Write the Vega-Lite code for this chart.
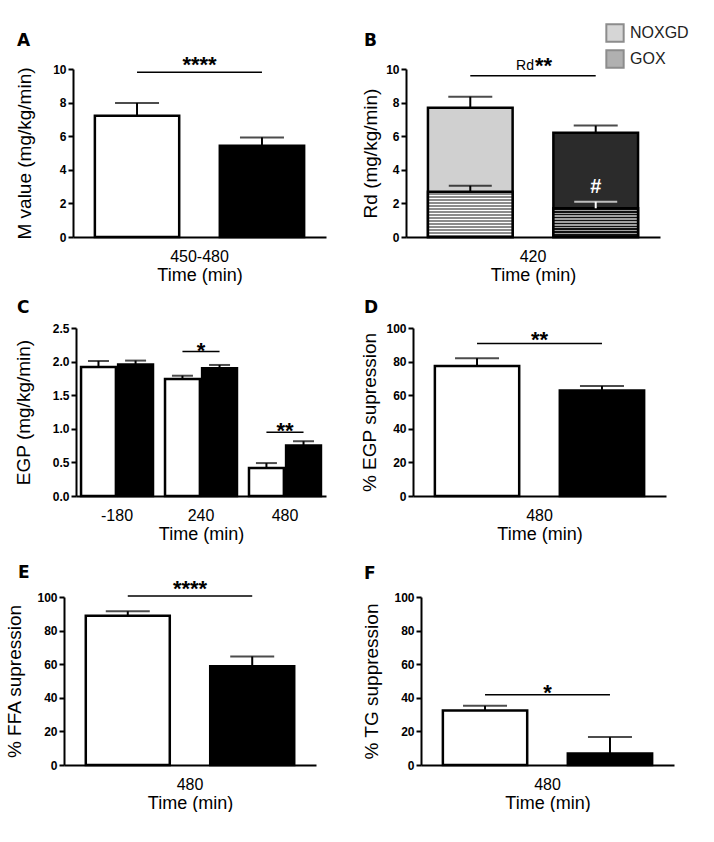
{
  "$schema": "https://vega.github.io/schema/vega-lite/v6.json",
  "background": "white",
  "padding": {"left": 0, "top": 23, "right": 0, "bottom": 0},
  "config": {
    "view": {"stroke": null},
    "font": "Liberation Sans",
    "axis": {"domainColor": "black", "domainWidth": 2, "tickColor": "black", "tickWidth": 2, "labelColor": "black", "titleColor": "black", "labelFont": "Liberation Sans", "titleFont": "Liberation Sans", "grid": false},
    "axisY": {"tickSize": 5, "labelFontSize": 12, "labelFontWeight": "bold", "labelPadding": 2, "titleFontSize": 19, "titleFontWeight": "normal", "labelOverlap": false, "tickCount": 12},
    "axisX": {"ticks": false, "labelFontSize": 16, "labelAngle": 0, "labelPadding": 11, "titleFontSize": 18, "titleFontWeight": "normal", "titlePadding": 2},
    "title": {"anchor": "start", "frame": "group", "font": "DejaVu Sans", "fontSize": 17, "fontWeight": "bold", "color": "black"},
    "text": {"font": "Liberation Sans", "color": "black"}
  },
  "resolve": {"scale": {"x": "independent", "y": "independent", "xOffset": "independent", "fill": "independent"}, "legend": {"fill": "independent"}},
  "spacing": 15,
  "vconcat": [
    {
      "resolve": {"scale": {"x": "independent", "y": "independent", "xOffset": "independent", "fill": "independent"}, "legend": {"fill": "independent"}},
      "spacing": 0,
      "bounds": "flush",
      "hconcat": [
        {"width": 73, "height": 1, "data": {"values": []}, "mark": "point"},
        {
          "resolve": {"scale": {"x": "independent", "y": "independent", "xOffset": "independent", "fill": "independent"}, "legend": {"fill": "independent"}},
          "spacing": 80,
          "bounds": "flush",
          "hconcat": [
            {
              "width": 253, "height": 168,
              "title": {"text": "A", "offset": 4, "dx": -56},
              "data": {"values": [
                {"time": "450-480", "group": "Control", "mean": 7.22, "upper": 7.98},
                {"time": "450-480", "group": "Intervention", "mean": 5.43, "upper": 5.93}
              ]},
              "encoding": {"x": {"field": "time", "type": "nominal", "scale": {"paddingInner": 0, "paddingOuter": 0}, "axis": {"title": "Time (min)"}}},
              "layer": [
                {"mark": {"type": "bar", "stroke": "black", "strokeWidth": 2.5},
                 "encoding": {
                   "xOffset": {"field": "group", "type": "nominal", "scale": {"domain": ["Control", "Intervention"], "paddingInner": 0.325, "paddingOuter": 0.175}},
                   "y": {"field": "mean", "type": "quantitative", "scale": {"domain": [0, 10], "nice": false}, "axis": {"title": "M value (mg/kg/min)", "values": [0, 2, 4, 6, 8, 10], "tickCount": 12, "labelOverlap": false, "titlePadding": 18}},
                   "fill": {"field": "group", "type": "nominal", "scale": {"domain": ["Control", "Intervention"], "range": ["white", "black"]}, "legend": null}}},
                {"mark": {"type": "rule", "color": "black", "strokeWidth": 2},
                 "encoding": {"xOffset": {"field": "group", "type": "nominal"}, "y": {"field": "mean", "type": "quantitative"}, "y2": {"field": "upper"}}},
                {"mark": {"type": "tick", "orient": "horizontal", "size": 44, "thickness": 2, "color": "black"},
                 "encoding": {"xOffset": {"field": "group", "type": "nominal"}, "y": {"field": "upper", "type": "quantitative"}}},
                {"data": {"values": [
                   {"time": "450-480", "group": "Control", "sig": 9.8},
                   {"time": "450-480", "group": "Intervention", "sig": 9.8}]},
                 "mark": {"type": "line", "color": "black", "strokeWidth": 1.5},
                 "encoding": {"xOffset": {"field": "group", "type": "nominal"}, "y": {"field": "sig", "type": "quantitative"}}},
                {"data": {"values": [{"time": "450-480", "sig": 9.8, "label": "****"}]},
                 "mark": {"type": "text", "fontSize": 22, "fontWeight": "bold", "baseline": "alphabetic", "dy": 0},
                 "encoding": {"y": {"field": "sig", "type": "quantitative"}, "text": {"field": "label"}}}
              ]
            },
            {
              "width": 254, "height": 168,
              "title": {"text": "B", "offset": -27, "dx": -42},
              "data": {"values": [
                {"time": "420", "group": "Control", "total": 7.70, "totalUpper": 8.35, "gox": 2.70, "goxUpper": 3.05},
                {"time": "420", "group": "Intervention", "total": 6.21, "totalUpper": 6.63, "gox": 1.71, "goxUpper": 2.10}
              ]},
              "encoding": {"x": {"field": "time", "type": "nominal", "scale": {"paddingInner": 0, "paddingOuter": 0}, "axis": {"title": "Time (min)"}}},
              "layer": [
                {"transform": [{"filter": "datum.group === 'Control'"}],
                 "mark": {"type": "bar", "stroke": "black", "strokeWidth": 2.5, "fill": "#d0d0d0"},
                 "encoding": {
                   "xOffset": {"field": "group", "type": "nominal", "scale": {"domain": ["Control", "Intervention"], "paddingInner": 0.325, "paddingOuter": 0.175}},
                   "y": {"field": "total", "type": "quantitative", "scale": {"domain": [0, 10], "nice": false}, "axis": {"title": "Rd (mg/kg/min)", "values": [0, 2, 4, 6, 8, 10], "tickCount": 12, "labelOverlap": false, "titlePadding": 5}}}},
                {"transform": [{"filter": "datum.group === 'Intervention'"}],
                 "mark": {"type": "bar", "stroke": "black", "strokeWidth": 2.5, "fill": "#2b2b2b"},
                 "encoding": {"xOffset": {"field": "group", "type": "nominal"}, "y": {"field": "total", "type": "quantitative"}}},
                {"transform": [{"filter": "datum.group === 'Control'"}],
                 "mark": {"type": "bar", "stroke": "black", "strokeWidth": 2.5,
                   "fill": {"gradient": "linear", "x1": 0, "y1": 0, "x2": 0, "y2": 1, "stops": [
                     {"offset": 0, "color": "#ffffff"}, {"offset": 0.0333, "color": "#ffffff"},
                     {"offset": 0.0333, "color": "#8c8c8c"}, {"offset": 0.0667, "color": "#8c8c8c"},
                     {"offset": 0.0667, "color": "#ffffff"}, {"offset": 0.1, "color": "#ffffff"},
                     {"offset": 0.1, "color": "#8c8c8c"}, {"offset": 0.1333, "color": "#8c8c8c"},
                     {"offset": 0.1333, "color": "#ffffff"}, {"offset": 0.1667, "color": "#ffffff"},
                     {"offset": 0.1667, "color": "#8c8c8c"}, {"offset": 0.2, "color": "#8c8c8c"},
                     {"offset": 0.2, "color": "#ffffff"}, {"offset": 0.2333, "color": "#ffffff"},
                     {"offset": 0.2333, "color": "#8c8c8c"}, {"offset": 0.2667, "color": "#8c8c8c"},
                     {"offset": 0.2667, "color": "#ffffff"}, {"offset": 0.3, "color": "#ffffff"},
                     {"offset": 0.3, "color": "#8c8c8c"}, {"offset": 0.3333, "color": "#8c8c8c"},
                     {"offset": 0.3333, "color": "#ffffff"}, {"offset": 0.3667, "color": "#ffffff"},
                     {"offset": 0.3667, "color": "#8c8c8c"}, {"offset": 0.4, "color": "#8c8c8c"},
                     {"offset": 0.4, "color": "#ffffff"}, {"offset": 0.4333, "color": "#ffffff"},
                     {"offset": 0.4333, "color": "#8c8c8c"}, {"offset": 0.4667, "color": "#8c8c8c"},
                     {"offset": 0.4667, "color": "#ffffff"}, {"offset": 0.5, "color": "#ffffff"},
                     {"offset": 0.5, "color": "#8c8c8c"}, {"offset": 0.5333, "color": "#8c8c8c"},
                     {"offset": 0.5333, "color": "#ffffff"}, {"offset": 0.5667, "color": "#ffffff"},
                     {"offset": 0.5667, "color": "#8c8c8c"}, {"offset": 0.6, "color": "#8c8c8c"},
                     {"offset": 0.6, "color": "#ffffff"}, {"offset": 0.6333, "color": "#ffffff"},
                     {"offset": 0.6333, "color": "#8c8c8c"}, {"offset": 0.6667, "color": "#8c8c8c"},
                     {"offset": 0.6667, "color": "#ffffff"}, {"offset": 0.7, "color": "#ffffff"},
                     {"offset": 0.7, "color": "#8c8c8c"}, {"offset": 0.7333, "color": "#8c8c8c"},
                     {"offset": 0.7333, "color": "#ffffff"}, {"offset": 0.7667, "color": "#ffffff"},
                     {"offset": 0.7667, "color": "#8c8c8c"}, {"offset": 0.8, "color": "#8c8c8c"},
                     {"offset": 0.8, "color": "#ffffff"}, {"offset": 0.8333, "color": "#ffffff"},
                     {"offset": 0.8333, "color": "#8c8c8c"}, {"offset": 0.8667, "color": "#8c8c8c"},
                     {"offset": 0.8667, "color": "#ffffff"}, {"offset": 0.9, "color": "#ffffff"},
                     {"offset": 0.9, "color": "#8c8c8c"}, {"offset": 0.9333, "color": "#8c8c8c"},
                     {"offset": 0.9333, "color": "#ffffff"}, {"offset": 0.9667, "color": "#ffffff"},
                     {"offset": 0.9667, "color": "#8c8c8c"}, {"offset": 1, "color": "#8c8c8c"}
                   ]}},
                 "encoding": {"xOffset": {"field": "group", "type": "nominal"}, "y": {"field": "gox", "type": "quantitative"}}},
                {"transform": [{"filter": "datum.group === 'Intervention'"}],
                 "mark": {"type": "bar", "stroke": "black", "strokeWidth": 2.5,
                   "fill": {"gradient": "linear", "x1": 0, "y1": 0, "x2": 0, "y2": 1, "stops": [
                     {"offset": 0, "color": "#111111"}, {"offset": 0.05, "color": "#111111"},
                     {"offset": 0.05, "color": "#a0a0a0"}, {"offset": 0.1, "color": "#a0a0a0"},
                     {"offset": 0.1, "color": "#111111"}, {"offset": 0.15, "color": "#111111"},
                     {"offset": 0.15, "color": "#a0a0a0"}, {"offset": 0.2, "color": "#a0a0a0"},
                     {"offset": 0.2, "color": "#111111"}, {"offset": 0.25, "color": "#111111"},
                     {"offset": 0.25, "color": "#a0a0a0"}, {"offset": 0.3, "color": "#a0a0a0"},
                     {"offset": 0.3, "color": "#111111"}, {"offset": 0.35, "color": "#111111"},
                     {"offset": 0.35, "color": "#a0a0a0"}, {"offset": 0.4, "color": "#a0a0a0"},
                     {"offset": 0.4, "color": "#111111"}, {"offset": 0.45, "color": "#111111"},
                     {"offset": 0.45, "color": "#a0a0a0"}, {"offset": 0.5, "color": "#a0a0a0"},
                     {"offset": 0.5, "color": "#111111"}, {"offset": 0.55, "color": "#111111"},
                     {"offset": 0.55, "color": "#a0a0a0"}, {"offset": 0.6, "color": "#a0a0a0"},
                     {"offset": 0.6, "color": "#111111"}, {"offset": 0.65, "color": "#111111"},
                     {"offset": 0.65, "color": "#a0a0a0"}, {"offset": 0.7, "color": "#a0a0a0"},
                     {"offset": 0.7, "color": "#111111"}, {"offset": 0.75, "color": "#111111"},
                     {"offset": 0.75, "color": "#a0a0a0"}, {"offset": 0.8, "color": "#a0a0a0"},
                     {"offset": 0.8, "color": "#111111"}, {"offset": 0.85, "color": "#111111"},
                     {"offset": 0.85, "color": "#a0a0a0"}, {"offset": 0.9, "color": "#a0a0a0"},
                     {"offset": 0.9, "color": "#111111"}, {"offset": 0.95, "color": "#111111"},
                     {"offset": 0.95, "color": "#a0a0a0"}, {"offset": 1, "color": "#a0a0a0"}
                   ]}},
                 "encoding": {"xOffset": {"field": "group", "type": "nominal"}, "y": {"field": "gox", "type": "quantitative"}}},
                {"mark": {"type": "rule", "color": "black", "strokeWidth": 2},
                 "encoding": {"xOffset": {"field": "group", "type": "nominal"}, "y": {"field": "total", "type": "quantitative"}, "y2": {"field": "totalUpper"}}},
                {"mark": {"type": "tick", "orient": "horizontal", "size": 44, "thickness": 2, "color": "black"},
                 "encoding": {"xOffset": {"field": "group", "type": "nominal"}, "y": {"field": "totalUpper", "type": "quantitative"}}},
                {"mark": {"type": "rule", "strokeWidth": 2},
                 "encoding": {"xOffset": {"field": "group", "type": "nominal"}, "y": {"field": "gox", "type": "quantitative"}, "y2": {"field": "goxUpper"},
                   "color": {"condition": {"test": "datum.group === 'Control'", "value": "black"}, "value": "white"}}},
                {"mark": {"type": "tick", "orient": "horizontal", "size": 43, "thickness": 2},
                 "encoding": {"xOffset": {"field": "group", "type": "nominal"}, "y": {"field": "goxUpper", "type": "quantitative"},
                   "color": {"condition": {"test": "datum.group === 'Control'", "value": "black"}, "value": "white"}}},
                {"transform": [{"filter": "datum.group === 'Intervention'"}],
                 "mark": {"type": "text", "fontSize": 20, "fontWeight": "bold", "color": "white", "baseline": "middle", "dy": -15},
                 "encoding": {"xOffset": {"field": "group", "type": "nominal"}, "y": {"field": "goxUpper", "type": "quantitative"}, "text": {"value": "#"}}},
                {"data": {"values": [
                   {"time": "420", "group": "Control", "sig": 9.6},
                   {"time": "420", "group": "Intervention", "sig": 9.6}]},
                 "mark": {"type": "line", "color": "black", "strokeWidth": 1.5},
                 "encoding": {"xOffset": {"field": "group", "type": "nominal"}, "y": {"field": "sig", "type": "quantitative"}}},
                {"data": {"values": [{"time": "420", "sig": 9.6, "label": "Rd", "stars": "**"}]},
                 "layer": [
                   {"mark": {"type": "text", "fontSize": 14, "align": "right", "baseline": "alphabetic", "dx": 1, "dy": -6},
                    "encoding": {"y": {"field": "sig", "type": "quantitative"}, "text": {"field": "label"}}},
                   {"mark": {"type": "text", "fontSize": 22, "fontWeight": "bold", "align": "left", "baseline": "alphabetic", "dx": 2, "dy": -3},
                    "encoding": {"y": {"field": "sig", "type": "quantitative"}, "text": {"field": "stars"}}}
                 ]},
                {"data": {"values": [{"time": "420", "component": "NOXGD"}, {"time": "420", "component": "GOX"}]},
                 "mark": {"type": "square", "opacity": 0},
                 "encoding": {"fill": {"field": "component", "type": "nominal", "scale": {"domain": ["NOXGD", "GOX"], "range": ["#d6d6d6", "#b0b0b0"]},
                   "legend": {"title": null, "orient": "none", "legendX": 199, "legendY": -46, "symbolType": "square", "symbolSize": 300, "symbolStrokeColor": "#8c8c8c", "symbolStrokeWidth": 2, "symbolOpacity": 1, "labelFontSize": 16, "labelFont": "Liberation Sans", "labelColor": "#222222", "labelOffset": 5, "rowPadding": 0, "padding": 0}}}}
              ]
            }
          ]
        }
      ]
    },
    {
      "resolve": {"scale": {"x": "independent", "y": "independent", "xOffset": "independent", "fill": "independent"}, "legend": {"fill": "independent"}},
      "spacing": 20,
      "vconcat": [
        {
          "resolve": {"scale": {"x": "independent", "y": "independent", "xOffset": "independent", "fill": "independent"}, "legend": {"fill": "independent"}},
          "spacing": 0,
          "bounds": "flush",
          "hconcat": [
            {"width": 76, "height": 1, "data": {"values": []}, "mark": "point"},
            {
              "resolve": {"scale": {"x": "independent", "y": "independent", "xOffset": "independent", "fill": "independent"}, "legend": {"fill": "independent"}},
              "spacing": 87,
              "bounds": "flush",
              "hconcat": [
                {
                  "width": 250, "height": 168,
                  "title": {"text": "C", "offset": 5, "dx": -59},
                  "data": {"values": [
                    {"time": "-180", "group": "Control", "mean": 1.92, "upper": 2.01},
                    {"time": "-180", "group": "Intervention", "mean": 1.955, "upper": 2.015},
                    {"time": "240", "group": "Control", "mean": 1.74, "upper": 1.79},
                    {"time": "240", "group": "Intervention", "mean": 1.90, "upper": 1.95},
                    {"time": "480", "group": "Control", "mean": 0.415, "upper": 0.49},
                    {"time": "480", "group": "Intervention", "mean": 0.75, "upper": 0.815}
                  ]},
                  "encoding": {"x": {"field": "time", "type": "nominal", "scale": {"domain": ["-180", "240", "480"], "paddingInner": 0.143, "paddingOuter": 0.06}, "axis": {"title": "Time (min)"}}},
                  "layer": [
                    {"mark": {"type": "bar", "stroke": "black", "strokeWidth": 2.5},
                     "encoding": {
                       "xOffset": {"field": "group", "type": "nominal", "scale": {"domain": ["Control", "Intervention"], "paddingInner": 0.06, "paddingOuter": 0}},
                       "y": {"field": "mean", "type": "quantitative", "scale": {"domain": [0, 2.5], "nice": false}, "axis": {"title": "EGP (mg/kg/min)", "values": [0, 0.5, 1, 1.5, 2, 2.5], "tickCount": 12, "labelOverlap": false, "format": ".1f", "titlePadding": 19}},
                       "fill": {"field": "group", "type": "nominal", "scale": {"domain": ["Control", "Intervention"], "range": ["white", "black"]}, "legend": null}}},
                    {"mark": {"type": "rule", "color": "black", "strokeWidth": 2},
                     "encoding": {"xOffset": {"field": "group", "type": "nominal"}, "y": {"field": "mean", "type": "quantitative"}, "y2": {"field": "upper"}}},
                    {"mark": {"type": "tick", "orient": "horizontal", "size": 21, "thickness": 2, "color": "black"},
                     "encoding": {"xOffset": {"field": "group", "type": "nominal"}, "y": {"field": "upper", "type": "quantitative"}}},
                    {"data": {"values": [
                       {"time": "240", "group": "Control", "sig": 2.15, "pair": "a"},
                       {"time": "240", "group": "Intervention", "sig": 2.15, "pair": "a"},
                       {"time": "480", "group": "Control", "sig": 0.95, "pair": "b"},
                       {"time": "480", "group": "Intervention", "sig": 0.95, "pair": "b"}]},
                     "mark": {"type": "line", "color": "black", "strokeWidth": 1.5},
                     "encoding": {"xOffset": {"field": "group", "type": "nominal"}, "y": {"field": "sig", "type": "quantitative"}, "detail": {"field": "pair"}}},
                    {"data": {"values": [{"time": "240", "sig": 2.15, "label": "*"}, {"time": "480", "sig": 0.95, "label": "**"}]},
                     "mark": {"type": "text", "fontSize": 22, "fontWeight": "bold", "baseline": "alphabetic", "dy": 6},
                     "encoding": {"y": {"field": "sig", "type": "quantitative"}, "text": {"field": "label"}}}
                  ]
                },
                {
                  "width": 253, "height": 168,
                  "title": {"text": "D", "offset": 5, "dx": -49},
                  "data": {"values": [
                    {"time": "480", "group": "Control", "mean": 77.4, "upper": 82.0},
                    {"time": "480", "group": "Intervention", "mean": 62.8, "upper": 65.5}
                  ]},
                  "encoding": {"x": {"field": "time", "type": "nominal", "scale": {"paddingInner": 0, "paddingOuter": 0}, "axis": {"title": "Time (min)"}}},
                  "layer": [
                    {"mark": {"type": "bar", "stroke": "black", "strokeWidth": 2.5},
                     "encoding": {
                       "xOffset": {"field": "group", "type": "nominal", "scale": {"domain": ["Control", "Intervention"], "paddingInner": 0.325, "paddingOuter": 0.175}},
                       "y": {"field": "mean", "type": "quantitative", "scale": {"domain": [0, 100], "nice": false}, "axis": {"title": "% EGP supression", "values": [0, 20, 40, 60, 80, 100], "tickCount": 12, "labelOverlap": false, "titlePadding": 6}},
                       "fill": {"field": "group", "type": "nominal", "scale": {"domain": ["Control", "Intervention"], "range": ["white", "black"]}, "legend": null}}},
                    {"mark": {"type": "rule", "color": "black", "strokeWidth": 2},
                     "encoding": {"xOffset": {"field": "group", "type": "nominal"}, "y": {"field": "mean", "type": "quantitative"}, "y2": {"field": "upper"}}},
                    {"mark": {"type": "tick", "orient": "horizontal", "size": 44, "thickness": 2, "color": "black"},
                     "encoding": {"xOffset": {"field": "group", "type": "nominal"}, "y": {"field": "upper", "type": "quantitative"}}},
                    {"data": {"values": [
                       {"time": "480", "group": "Control", "sig": 90.7},
                       {"time": "480", "group": "Intervention", "sig": 90.7}]},
                     "mark": {"type": "line", "color": "black", "strokeWidth": 1.5},
                     "encoding": {"xOffset": {"field": "group", "type": "nominal"}, "y": {"field": "sig", "type": "quantitative"}}},
                    {"data": {"values": [{"time": "480", "sig": 90.7, "label": "**"}]},
                     "mark": {"type": "text", "fontSize": 22, "fontWeight": "bold", "baseline": "alphabetic", "dy": 3},
                     "encoding": {"y": {"field": "sig", "type": "quantitative"}, "text": {"field": "label"}}}
                  ]
                }
              ]
            }
          ]
        },
        {
          "resolve": {"scale": {"x": "independent", "y": "independent", "xOffset": "independent", "fill": "independent"}, "legend": {"fill": "independent"}},
          "spacing": 0,
          "bounds": "flush",
          "hconcat": [
            {"width": 64, "height": 1, "data": {"values": []}, "mark": "point"},
            {
              "resolve": {"scale": {"x": "independent", "y": "independent", "xOffset": "independent", "fill": "independent"}, "legend": {"fill": "independent"}},
              "spacing": 105,
              "bounds": "flush",
              "hconcat": [
                {
                  "width": 252, "height": 168,
                  "title": {"text": "E", "offset": -4, "dx": -46},
                  "data": {"values": [
                    {"time": "480", "group": "Control", "mean": 88.9, "upper": 91.5},
                    {"time": "480", "group": "Intervention", "mean": 58.8, "upper": 64.6}
                  ]},
                  "encoding": {"x": {"field": "time", "type": "nominal", "scale": {"paddingInner": 0, "paddingOuter": 0}, "axis": {"title": "Time (min)"}}},
                  "layer": [
                    {"mark": {"type": "bar", "stroke": "black", "strokeWidth": 2.5},
                     "encoding": {
                       "xOffset": {"field": "group", "type": "nominal", "scale": {"domain": ["Control", "Intervention"], "paddingInner": 0.325, "paddingOuter": 0.175}},
                       "y": {"field": "mean", "type": "quantitative", "scale": {"domain": [0, 100], "nice": false}, "axis": {"title": "% FFA supression", "values": [0, 20, 40, 60, 80, 100], "tickCount": 12, "labelOverlap": false, "titlePadding": 12}},
                       "fill": {"field": "group", "type": "nominal", "scale": {"domain": ["Control", "Intervention"], "range": ["white", "black"]}, "legend": null}}},
                    {"mark": {"type": "rule", "color": "black", "strokeWidth": 2},
                     "encoding": {"xOffset": {"field": "group", "type": "nominal"}, "y": {"field": "mean", "type": "quantitative"}, "y2": {"field": "upper"}}},
                    {"mark": {"type": "tick", "orient": "horizontal", "size": 44, "thickness": 2, "color": "black"},
                     "encoding": {"xOffset": {"field": "group", "type": "nominal"}, "y": {"field": "upper", "type": "quantitative"}}},
                    {"data": {"values": [
                       {"time": "480", "group": "Control", "sig": 100.6},
                       {"time": "480", "group": "Intervention", "sig": 100.6}]},
                     "mark": {"type": "line", "color": "black", "strokeWidth": 1.5},
                     "encoding": {"xOffset": {"field": "group", "type": "nominal"}, "y": {"field": "sig", "type": "quantitative"}}},
                    {"data": {"values": [{"time": "480", "sig": 100.6, "label": "****"}]},
                     "mark": {"type": "text", "fontSize": 22, "fontWeight": "bold", "baseline": "alphabetic", "dy": 0},
                     "encoding": {"y": {"field": "sig", "type": "quantitative"}, "text": {"field": "label"}}}
                  ]
                },
                {
                  "width": 253, "height": 168,
                  "title": {"text": "F", "offset": 8, "dx": -57},
                  "data": {"values": [
                    {"time": "480", "group": "Control", "mean": 32.5, "upper": 35.2},
                    {"time": "480", "group": "Intervention", "mean": 6.9, "upper": 16.6}
                  ]},
                  "encoding": {"x": {"field": "time", "type": "nominal", "scale": {"paddingInner": 0, "paddingOuter": 0}, "axis": {"title": "Time (min)"}}},
                  "layer": [
                    {"mark": {"type": "bar", "stroke": "black", "strokeWidth": 2.5},
                     "encoding": {
                       "xOffset": {"field": "group", "type": "nominal", "scale": {"domain": ["Control", "Intervention"], "paddingInner": 0.325, "paddingOuter": 0.175}},
                       "y": {"field": "mean", "type": "quantitative", "scale": {"domain": [0, 100], "nice": false}, "axis": {"title": "% TG suppression", "values": [0, 20, 40, 60, 80, 100], "tickCount": 12, "labelOverlap": false, "titlePadding": 12}},
                       "fill": {"field": "group", "type": "nominal", "scale": {"domain": ["Control", "Intervention"], "range": ["white", "black"]}, "legend": null}}},
                    {"mark": {"type": "rule", "color": "black", "strokeWidth": 2},
                     "encoding": {"xOffset": {"field": "group", "type": "nominal"}, "y": {"field": "mean", "type": "quantitative"}, "y2": {"field": "upper"}}},
                    {"mark": {"type": "tick", "orient": "horizontal", "size": 44, "thickness": 2, "color": "black"},
                     "encoding": {"xOffset": {"field": "group", "type": "nominal"}, "y": {"field": "upper", "type": "quantitative"}}},
                    {"data": {"values": [
                       {"time": "480", "group": "Control", "sig": 41.8},
                       {"time": "480", "group": "Intervention", "sig": 41.8}]},
                     "mark": {"type": "line", "color": "black", "strokeWidth": 1.5},
                     "encoding": {"xOffset": {"field": "group", "type": "nominal"}, "y": {"field": "sig", "type": "quantitative"}}},
                    {"data": {"values": [{"time": "480", "sig": 41.8, "label": "*"}]},
                     "mark": {"type": "text", "fontSize": 22, "fontWeight": "bold", "baseline": "alphabetic", "dy": 5},
                     "encoding": {"y": {"field": "sig", "type": "quantitative"}, "text": {"field": "label"}}}
                  ]
                }
              ]
            }
          ]
        }
      ]
    }
  ]
}
